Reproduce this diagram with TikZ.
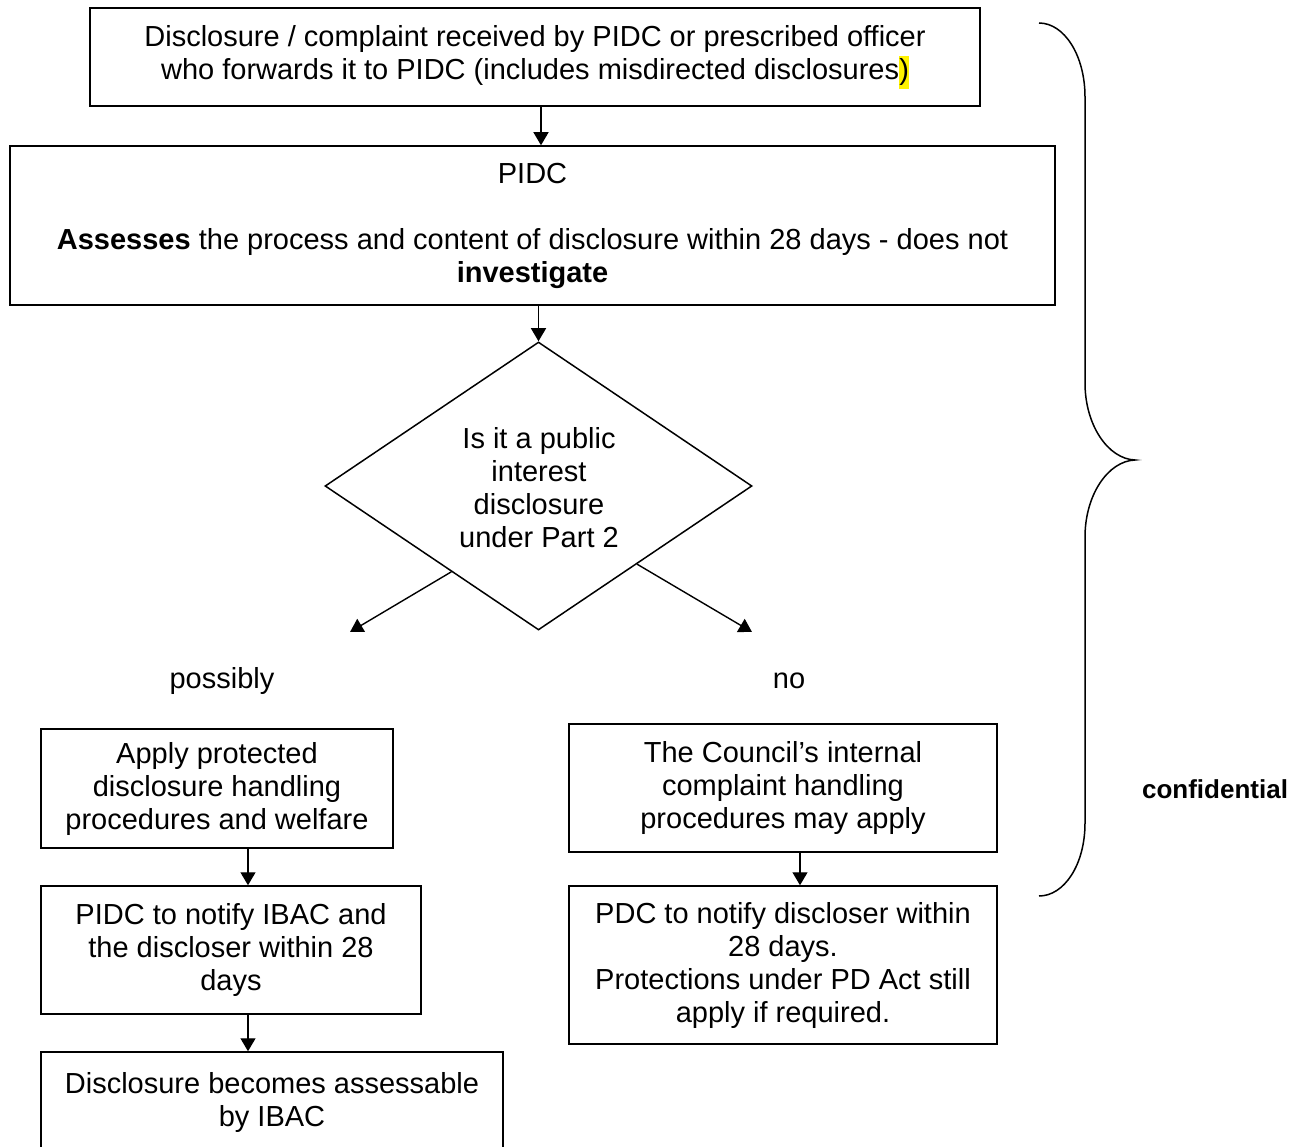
\documentclass[tikz,border=0pt]{standalone}
\usepackage{fontspec}
\setmainfont{Liberation Sans}
\usetikzlibrary{shapes.geometric,arrows.meta,calc}
\begin{document}
\begin{tikzpicture}[x=1pt,y=-1pt,
 box/.style={draw,line width=1.5pt,inner sep=0pt,align=center,font=\fontsize{29}{33}\selectfont},
 arr/.style={line width=1.4pt,-{Triangle[length=13pt,width=15pt]}},
 lbl/.style={inner sep=0pt,align=center,font=\fontsize{29}{33}\selectfont}]
\useasboundingbox (0,0) rectangle (1306,1147);
\node[box,minimum width=890,minimum height=98] (b1) at (535,57) {Disclosure / complaint received by PIDC or prescribed officer\\ who forwards it to PIDC (includes misdirected disclosures{\setlength{\fboxsep}{0pt}\colorbox{yellow}{\strut)}}};
\node[box,minimum width=1045,minimum height=159] (b2) at (532.5,225.5) {PIDC\\[33pt] \textbf{Assesses} the process and content of disclosure within 28 days - does not\\ \textbf{investigate}};
\node[draw,diamond,line width=1.5pt,minimum width=427,minimum height=288,inner sep=0pt] (d) at (538.5,486) {};
\node[lbl] (dt) at (539,488) {Is it a public\\ interest\\ disclosure\\ under Part 2};
\coordinate (pl) at (350,632);
\coordinate (pr) at (752,632);
\node[lbl] (pos) at (222,681) {possibly};
\node[lbl] (no) at (789,681) {no};
\node[box,minimum width=352,minimum height=119] (l1) at (217,788.5) {Apply protected\\ disclosure handling\\ procedures and welfare};
\node[box,minimum width=380,minimum height=128] (l2) at (231,950) {PIDC to notify IBAC and\\ the discloser within 28\\ days};
\node[box,minimum width=462,minimum height=100] (l3) at (272,1102) {Disclosure becomes assessable\\ by IBAC};
\node[box,minimum width=428,minimum height=128] (r1) at (783,788) {The Council’s internal\\ complaint handling\\ procedures may apply};
\node[box,minimum width=428,minimum height=158] (r2) at (783,965) {PDC to notify discloser within\\ 28 days.\\ Protections under PD Act still\\ apply if required.};
\node[inner sep=0pt,font=\fontsize{26}{30}\selectfont\bfseries] (conf) at (1215,789) {confidential};
\draw[arr] ($(b1.south)+(6,0)$) -- ($(b2.north)+(8.5,0)$);
\draw[arr] ($(b2.south)+(6,0)$) -- (d.north);
\draw[arr] ($(d.west)!0.593!(d.south)$) -- (pl);
\draw[arr] ($(d.east)!0.54!(d.south)$) -- (pr);
\draw[arr] ($(l1.south)+(31,0)$) -- ($(l2.north)+(17,0)$);
\draw[arr] ($(l2.south)+(17,0)$) -- ($(l3.north)+(-24,0)$);
\draw[arr] ($(r1.south)+(17,0)$) -- ($(r2.north)+(17,0)$);
\draw[line width=1.5pt] (1039,23) .. controls (1064,23) and (1085,55) .. (1085,97) -- (1085,383) .. controls (1085,425) and (1108,459) .. (1135,460) .. controls (1108,461) and (1085,495) .. (1085,537) -- (1085,823) .. controls (1085,865) and (1064,896) .. (1039,896);
\end{tikzpicture}
\end{document}
